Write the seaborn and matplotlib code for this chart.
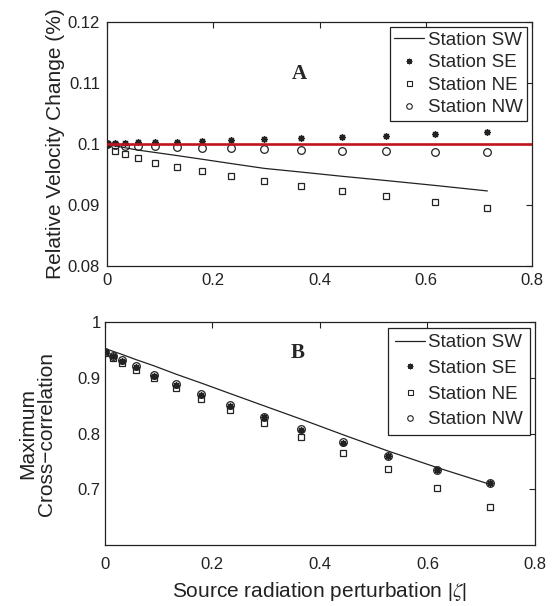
import matplotlib
matplotlib.use("Agg")
import matplotlib.pyplot as plt
import seaborn as sns
import pandas as pd
from matplotlib.lines import Line2D

# ---------------- data ----------------
zeta = [0, 0.015, 0.033, 0.058, 0.091, 0.132, 0.179, 0.233, 0.296, 0.365, 0.443, 0.526, 0.618, 0.716]

# Panel A: relative velocity change (%)
vel_sw = [0.1000, 0.0997, 0.0994, 0.0990, 0.0986, 0.0981, 0.0975, 0.0968, 0.0960, 0.0954, 0.0947, 0.0940, 0.0932, 0.0923]
vel_se = [0.1000, 0.1001, 0.1002, 0.10025, 0.1003, 0.1004, 0.1005, 0.10065, 0.10077, 0.10093, 0.1012, 0.10137, 0.1017, 0.10197]
vel_ne = [0.1000, 0.0989, 0.09836, 0.09765, 0.09694, 0.09628, 0.09552, 0.09475, 0.09393, 0.09317, 0.0923, 0.09142, 0.09054, 0.08956]
vel_nw = [0.1000, 0.0998, 0.09975, 0.0997, 0.0996, 0.0995, 0.0994, 0.0993, 0.09913, 0.09902, 0.0989, 0.09885, 0.09869, 0.09863]
ref_level = 0.1

# Panel B: maximum cross-correlation
cc_sw = [0.953, 0.948, 0.942, 0.933, 0.922, 0.907, 0.891, 0.872, 0.850, 0.826, 0.798, 0.769, 0.739, 0.709]
cc_se = [0.946, 0.939, 0.931, 0.919, 0.904, 0.887, 0.869, 0.849, 0.829, 0.807, 0.784, 0.759, 0.735, 0.711]
cc_ne = [0.945, 0.936, 0.927, 0.915, 0.900, 0.882, 0.863, 0.843, 0.819, 0.794, 0.766, 0.736, 0.703, 0.668]
cc_nw = [0.947, 0.940, 0.933, 0.921, 0.906, 0.889, 0.871, 0.851, 0.830, 0.808, 0.785, 0.760, 0.735, 0.711]

stations = ["Station SW", "Station SE", "Station NE", "Station NW"]
xticks = [0, 0.2, 0.4, 0.6, 0.8]
xticklabels = ["0", "0.2", "0.4", "0.6", "0.8"]
yticks_a = [0.08, 0.09, 0.10, 0.11, 0.12]
yticklabels_a = ["0.08", "0.09", "0.1", "0.11", "0.12"]
yticks_b = [0.7, 0.8, 0.9, 1.0]
yticklabels_b = ["0.7", "0.8", "0.9", "1"]

# ---------------- style ----------------
sns.set_style("white")
plt.rcParams["font.family"] = ["Liberation Sans", "DejaVu Sans"]
plt.rcParams["mathtext.fontset"] = "stix"
plt.rcParams["axes.unicode_minus"] = True

INK = "#222222"
ASTER = (8, 2, 0)
fig = plt.figure(figsize=(5.58, 6.06), dpi=100)
ax1 = fig.add_axes([0.1918, 0.5611, 0.7616, 0.4026])
ax2 = fig.add_axes([0.1876, 0.1007, 0.7713, 0.3675])


def draw(ax, sw, se, ne, nw):
    df = pd.DataFrame({"zeta": zeta, "SW": sw, "SE": se, "NE": ne, "NW": nw})
    sns.lineplot(data=df, x="zeta", y="SW", ax=ax, color=INK, linewidth=0.9, zorder=2)
    sns.lineplot(data=df, x="zeta", y="SE", ax=ax, color=INK, linestyle="", marker=ASTER,
                 markersize=4.8, markeredgewidth=1.0, markeredgecolor=INK, zorder=3)
    sns.lineplot(data=df, x="zeta", y="NE", ax=ax, color=INK, linestyle="", marker="s",
                 markersize=4.2, markerfacecolor="none", markeredgecolor=INK,
                 markeredgewidth=0.9, zorder=3)
    sns.lineplot(data=df, x="zeta", y="NW", ax=ax, color=INK, linestyle="", marker="o",
                 markersize=5.5, markerfacecolor="none", markeredgecolor=INK,
                 markeredgewidth=0.9, zorder=3)


draw(ax1, vel_sw, vel_se, vel_ne, vel_nw)
ax1.axhline(ref_level, color="#c0141e", linewidth=1.9, zorder=4)
draw(ax2, cc_sw, cc_se, cc_ne, cc_nw)

handles = [
    Line2D([], [], color=INK, linewidth=0.9),
    Line2D([], [], color=INK, linestyle="", marker=ASTER, markersize=4.0,
           markeredgewidth=0.9, markeredgecolor=INK),
    Line2D([], [], color=INK, linestyle="", marker="s", markersize=3.6,
           markerfacecolor="none", markeredgecolor=INK, markeredgewidth=0.8),
    Line2D([], [], color=INK, linestyle="", marker="o", markersize=4.0,
           markerfacecolor="none", markeredgecolor=INK, markeredgewidth=0.8),
]

for ax, yt, ytl, ylim, lsp, bpad in [(ax1, yticks_a, yticklabels_a, (0.08, 0.12), 0.29, 0.23),
                                     (ax2, yticks_b, yticklabels_b, (0.6, 1.0), 0.45, 0.36)]:
    ax.set_xlim(0, 0.8)
    ax.set_ylim(*ylim)
    ax.set_xticks(xticks)
    ax.set_xticklabels(xticklabels)
    ax.set_yticks(yt)
    ax.set_yticklabels(ytl)
    ax.tick_params(direction="in", top=True, right=True, length=4, width=0.8,
                   labelsize=12, colors=INK, labelcolor=INK)
    for s in ax.spines.values():
        s.set_color(INK)
        s.set_linewidth(0.9)
    leg = ax.legend(handles, stations, loc="upper right", fontsize=13.5, frameon=True,
                    fancybox=False, framealpha=1, edgecolor=INK,
                    handlelength=1.6, handletextpad=0.18, labelspacing=lsp,
                    borderpad=bpad, borderaxespad=0.28)
    leg.get_frame().set_linewidth(0.9)

ax1.tick_params(axis="x", pad=5)
ax1.tick_params(axis="y", pad=5)
ax2.tick_params(axis="x", pad=8.5)
ax2.tick_params(axis="y", pad=3)

ax1.set_xlabel("")
ax1.set_ylabel("Relative Velocity Change (%)", fontsize=15, color=INK)
ax1.yaxis.set_label_coords(-0.10, 0.5)
ax2.set_ylabel("Maximum\nCross\u2212correlation", fontsize=15, color=INK, linespacing=1.0)
ax2.yaxis.set_label_coords(-0.113, 0.5)
ax2.set_xlabel(r"Source radiation perturbation $\left|\zeta\right|$", fontsize=15, color=INK)
ax2.xaxis.set_label_coords(0.5, -0.158)

ax1.text(0.362, 0.1115, "A", fontsize=15, fontweight="bold", family="Liberation Serif",
         ha="center", va="center")
ax2.text(0.359, 0.9457, "B", fontsize=15, fontweight="bold", family="Liberation Serif",
         ha="center", va="center")

fig.savefig("out.png", dpi=100)
